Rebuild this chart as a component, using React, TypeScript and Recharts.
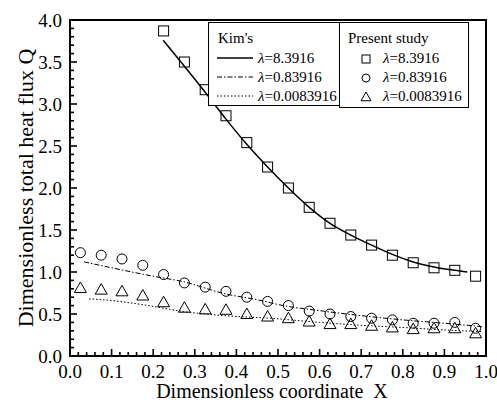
import { ComposedChart, Line, Scatter, XAxis, YAxis, Legend, ReferenceArea } from 'recharts'

const FONT = '"Liberation Serif", "Times New Roman", Times, serif'
const txt = { fontFamily: FONT }

// Present study (symbols)
const xPts = [0.025, 0.075, 0.125, 0.175, 0.225, 0.275, 0.325, 0.375, 0.425, 0.475,
  0.525, 0.575, 0.625, 0.675, 0.725, 0.775, 0.825, 0.875, 0.925, 0.975]
const squareX = [0.225, 0.275, 0.325, 0.375, 0.425, 0.475, 0.525, 0.575, 0.625, 0.675,
  0.725, 0.775, 0.825, 0.875, 0.925, 0.975]
const squareQ = [3.87, 3.5, 3.17, 2.86, 2.54, 2.25, 2.0, 1.77, 1.58, 1.44, 1.32, 1.2, 1.11, 1.05, 1.02, 0.95]
const circleQ = [1.23, 1.2, 1.155, 1.08, 0.97, 0.87, 0.82, 0.77, 0.7, 0.65,
  0.6, 0.535, 0.5, 0.47, 0.45, 0.43, 0.39, 0.39, 0.4, 0.33]
const triangleQ = [0.81, 0.79, 0.77, 0.72, 0.64, 0.575, 0.555, 0.55, 0.5, 0.47,
  0.45, 0.41, 0.38, 0.38, 0.36, 0.34, 0.32, 0.33, 0.33, 0.27]

// Kim's curves
const kimX1 = [0.224, 0.275, 0.325, 0.375, 0.425, 0.475, 0.525, 0.575, 0.625, 0.675,
  0.725, 0.775, 0.825, 0.875, 0.925, 0.955]
const kimQ1 = [3.76, 3.45, 3.14, 2.82, 2.52, 2.25, 2.0, 1.77, 1.58, 1.44, 1.32, 1.21, 1.12, 1.06, 1.02, 1.0]
const kimX2 = [0.034, 0.1, 0.2, 0.272, 0.373, 0.45, 0.513, 0.6, 0.7, 0.8, 0.9, 0.99]
const kimQ2 = [1.12, 1.05, 0.95, 0.885, 0.74, 0.67, 0.6, 0.54, 0.48, 0.43, 0.39, 0.35]
const kimX3 = [0.046, 0.1, 0.18, 0.272, 0.373, 0.48, 0.6, 0.72, 0.8, 0.9, 0.99]
const kimQ3 = [0.68, 0.66, 0.607, 0.53, 0.48, 0.45, 0.4, 0.36, 0.34, 0.31, 0.29]

const xTicks = [0, 0.02, 0.04, 0.06, 0.08, 0.1, 0.12, 0.14, 0.16, 0.18, 0.2, 0.22, 0.24, 0.26, 0.28,
  0.3, 0.32, 0.34, 0.36, 0.38, 0.4, 0.42, 0.44, 0.46, 0.48, 0.5, 0.52, 0.54, 0.56, 0.58,
  0.6, 0.62, 0.64, 0.66, 0.68, 0.7, 0.72, 0.74, 0.76, 0.78, 0.8, 0.82, 0.84, 0.86, 0.88,
  0.9, 0.92, 0.94, 0.96, 0.98, 1.0]
const yTicks = [0, 0.1, 0.2, 0.3, 0.4, 0.5, 0.6, 0.7, 0.8, 0.9, 1.0, 1.1, 1.2, 1.3, 1.4, 1.5,
  1.6, 1.7, 1.8, 1.9, 2.0, 2.1, 2.2, 2.3, 2.4, 2.5, 2.6, 2.7, 2.8, 2.9, 3.0, 3.1, 3.2,
  3.3, 3.4, 3.5, 3.6, 3.7, 3.8, 3.9, 4.0]

const zip = (xs: number[], ys: number[]) => xs.map((x, i) => ({ x, q: ys[i] }))
const squares = zip(squareX, squareQ)
const circles = zip(xPts, circleQ)
const triangles = zip(xPts, triangleQ)
const kim1 = zip(kimX1, kimQ1)
const kim2 = zip(kimX2, kimQ2)
const kim3 = zip(kimX3, kimQ3)

const isMult = (v: number, step: number) => Math.abs(v / step - Math.round(v / step)) < 1e-6

const renderXTick = (props: any) => {
  const { x, y, payload } = props
  const major = isMult(payload.value, 0.1)
  return (
    <g>
      <line x1={x} x2={x} y1={y} y2={y - (major ? 7 : 4)} stroke="#000" strokeWidth={1.6} />
      {major && (
        <text x={x} y={y + 22} textAnchor="middle" style={txt} fontSize={19} fill="#000">
          {payload.value.toFixed(1)}
        </text>
      )}
    </g>
  )
}

const renderYTick = (props: any) => {
  const { x, y, payload } = props
  const major = isMult(payload.value, 0.5)
  return (
    <g>
      <line x1={x} x2={x + (major ? 7 : 4)} y1={y} y2={y} stroke="#000" strokeWidth={1.6} />
      {major && (
        <text x={x - 8} y={y + 6.5} textAnchor="end" style={txt} fontSize={19} fill="#000">
          {payload.value.toFixed(1)}
        </text>
      )}
    </g>
  )
}

const SquareMark = (p: any) => {
  const s = p.s ?? 5
  return <rect x={p.cx - s} y={p.cy - s} width={2 * s} height={2 * s} fill="none" stroke="#000" strokeWidth={1} />
}
const CircleMark = (p: any) => <circle cx={p.cx} cy={p.cy} r={p.s ?? 5} fill="none" stroke="#000" strokeWidth={1} />
const TriangleMark = (p: any) => {
  const s = p.s ?? 6
  return (
    <polygon
      points={`${p.cx},${p.cy - s} ${p.cx - s},${p.cy + s * 0.75} ${p.cx + s},${p.cy + s * 0.75}`}
      fill="none"
      stroke="#000"
      strokeWidth={1}
    />
  )
}

const kimRows = [
  { label: '=8.3916', dash: undefined },
  { label: '=0.83916', dash: '5 2 1.5 2' },
  { label: '=0.0083916', dash: '1.5 2' },
]
const presentRows = ['=8.3916', '=0.83916', '=0.0083916']

const renderLegend = () => (
  <svg width={264} height={90} style={{ display: 'block' }}>
    <g style={txt} fontSize={15} fill="#000">
      <rect x={0.5} y={0.5} width={131} height={83} fill="#fff" stroke="#000" strokeWidth={1} />
      <rect x={131.5} y={0.5} width={129} height={85} fill="#fff" stroke="#000" strokeWidth={1} />
      <text x={10} y={21}>Kim's</text>
      {kimRows.map((r, i) => (
        <g key={r.label}>
          <line x1={9} x2={45} y1={36 + i * 19} y2={36 + i * 19} stroke="#000"
            strokeWidth={r.dash ? 1 : 1.5} strokeDasharray={r.dash} />
          <text x={50} y={41 + i * 19}>
            <tspan fontStyle="italic">λ</tspan>{r.label}
          </text>
        </g>
      ))}
      <text x={140} y={21}>Present study</text>
      <SquareMark cx={158} cy={37} s={4} />
      <CircleMark cx={158} cy={56} s={4} />
      <TriangleMark cx={158} cy={75} s={5} />
      {presentRows.map((l, i) => (
        <text key={l} x={175} y={41 + i * 19}>
          <tspan fontStyle="italic">λ</tspan>{l}
        </text>
      ))}
    </g>
  </svg>
)

const XTitle = (props: any) => {
  const vb = props.viewBox
  return (
    <text x={vb.x + vb.width / 2 - 6} y={vb.y + 42} textAnchor="middle" style={txt} fontSize={20} fill="#000">
      Dimensionless coordinate{'\u00a0\u00a0'}X
    </text>
  )
}

const YTitle = (props: any) => {
  const vb = props.viewBox
  const cy = vb.y + vb.height / 2
  return (
    <text x={33} y={cy} transform={`rotate(-90, 33, ${cy})`} textAnchor="middle" style={txt} fontSize={22} fill="#000">
      Dimensionless total heat flux Q
    </text>
  )
}

export default function App() {
  return (
    <div style={{ position: 'absolute', left: 0, top: 0, width: 497, height: 405, background: '#fff', fontFamily: FONT }}>
      <ComposedChart width={497} height={405} margin={{ top: 20, right: 11, bottom: 0, left: 0 }}>
        <XAxis
          dataKey="x"
          type="number"
          domain={[0, 1]}
          ticks={xTicks}
          interval={0}
          tickSize={0}
          tickMargin={0}
          tick={renderXTick}
          tickLine={false}
          axisLine={{ stroke: '#000', strokeWidth: 2 }}
          height={49}
          allowDataOverflow
          label={<XTitle />}
        />
        <YAxis
          type="number"
          domain={[0, 4]}
          ticks={yTicks}
          interval={0}
          tickSize={0}
          tickMargin={0}
          tick={renderYTick}
          tickLine={false}
          axisLine={{ stroke: '#000', strokeWidth: 2 }}
          width={70}
          allowDataOverflow
          label={<YTitle />}
        />
        <ReferenceArea x1={0} x2={1} y1={0} y2={4} fill="none" stroke="#000" strokeWidth={2} ifOverflow="visible" />
        <Line data={kim1} dataKey="q" type="monotone" stroke="#000" strokeWidth={1.5} dot={false} isAnimationActive={false} />
        <Line data={kim2} dataKey="q" type="monotone" stroke="#000" strokeWidth={1} strokeDasharray="5 2 1.5 2" dot={false} isAnimationActive={false} />
        <Line data={kim3} dataKey="q" type="monotone" stroke="#000" strokeWidth={1} strokeDasharray="1.5 2" dot={false} isAnimationActive={false} />
        <Scatter data={squares} dataKey="q" shape={SquareMark} isAnimationActive={false} />
        <Scatter data={circles} dataKey="q" shape={CircleMark} isAnimationActive={false} />
        <Scatter data={triangles} dataKey="q" shape={TriangleMark} isAnimationActive={false} />
        <Legend
          content={renderLegend}
          layout="vertical"
          align="center"
          verticalAlign="middle"
          wrapperStyle={{ left: 208, top: 22, width: 264, height: 90 }}
        />
      </ComposedChart>
    </div>
  )
}
